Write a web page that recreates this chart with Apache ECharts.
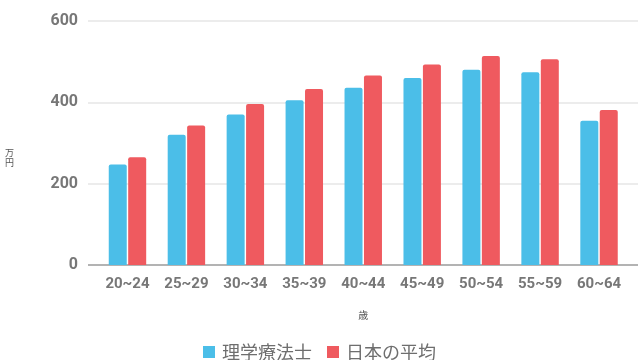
<!DOCTYPE html>
<html><head><meta charset="utf-8">
<script src="https://cdn.jsdelivr.net/npm/echarts@6/dist/echarts.min.js"></script>
<style>html,body{margin:0;padding:0;background:#fff}#c{width:641px;height:360px}</style>
</head><body><div id="c"></div>
<script>
var categories = ['20~24','25~29','30~34','35~39','40~44','45~49','50~54','55~59','60~64'];
var ptValues = [247,320,370,405,436,460,480,474,355];
var avgValues = [265,343,396,433,466,493,514,506,381];
var seriesNames = ['理学療法士','日本の平均'];
var yTicks = [0,200,400,600];
var yUnit = '万円';
var xUnit = '歳';

var chart = echarts.init(document.getElementById('c'), null, {renderer:'canvas'});
var grey = '#777777';
chart.setOption({
  animation:false,
  legend:{
    left:198, top:338, itemWidth:12, itemHeight:12, itemGap:15, icon:'rect',
    textStyle:{fontFamily:'Noto Sans CJK JP', fontSize:18, color:'#6e6e6e', padding:[0,0,0,2]},
    data:seriesNames
  },
  graphic:[
    {type:'text', left:5, top:148, style:{text:yUnit.split('').join('\n'), font:'9px "Noto Sans CJK JP"', lineHeight:10, fill:'#555', align:'center'}}
  ],
  grid:[
    {left:98, right:12.5, top:21, bottom:95},
    {left:88, right:3, top:21, bottom:95}
  ],
  xAxis:[
    {type:'category', gridIndex:0, data:categories,
     axisLine:{show:false}, axisTick:{show:false},
     axisLabel:{margin:12, fontFamily:'Roboto', fontWeight:'bold', fontSize:15, color:grey},
     name:xUnit, nameLocation:'middle', nameGap:45,
     nameTextStyle:{fontFamily:'Noto Sans CJK JP', fontSize:10, color:'#555'}},
    {type:'value', gridIndex:1, show:false, min:0, max:1}
  ],
  yAxis:[
    {type:'value', gridIndex:0, min:0, max:600, interval:200, show:false},
    {type:'value', gridIndex:1, min:0, max:600, interval:200,
     axisLine:{show:false}, axisTick:{show:false},
     axisLabel:{margin:10, fontFamily:'Roboto', fontWeight:'bold', fontSize:16, color:grey,
       formatter:function(v){return yTicks.indexOf(v)>=0? String(v):'';}},
     splitLine:{lineStyle:{color:['#9a9a9a','#e6e6e6','#e6e6e6','#e6e6e6'], width:1.5}}}
  ],
  series:[
    {name:seriesNames[0], type:'bar', xAxisIndex:0, yAxisIndex:0, data:ptValues,
     barWidth:18, barGap:'8%', z:3,
     itemStyle:{color:'#4BBEE8', borderRadius:[2,2,0,0]}},
    {name:seriesNames[1], type:'bar', xAxisIndex:0, yAxisIndex:0, data:avgValues,
     barWidth:18, barGap:'8%', z:3,
     itemStyle:{color:'#EF5A5F', borderRadius:[2,2,0,0]}}
  ]
});
</script></body></html>
